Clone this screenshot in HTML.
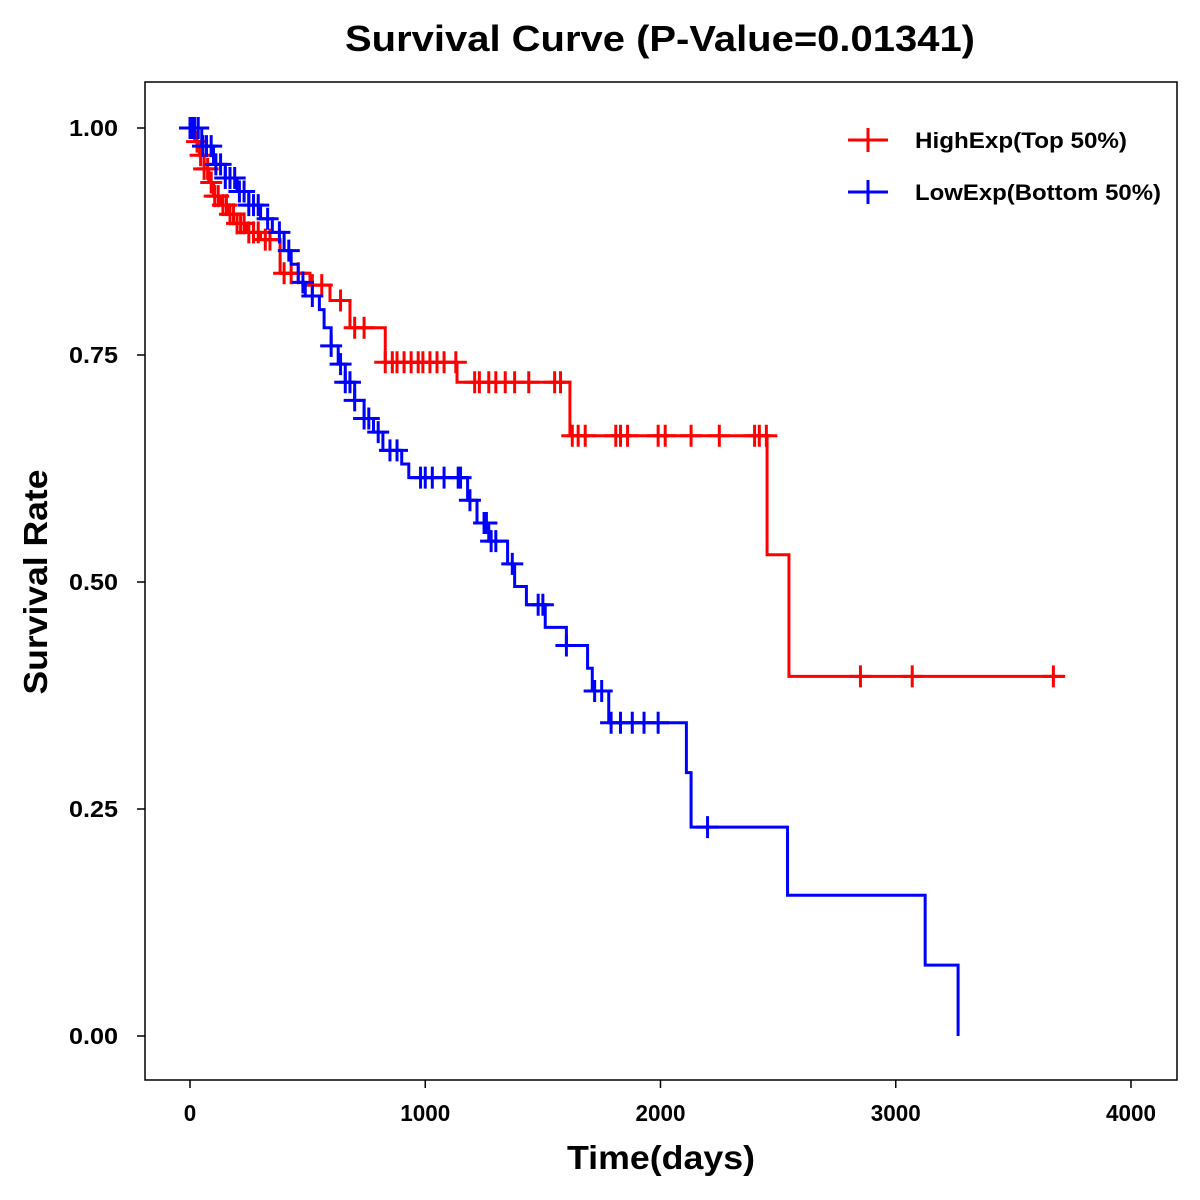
<!DOCTYPE html>
<html><head><meta charset="utf-8"><style>
html,body{margin:0;padding:0;background:#fff;}
svg{display:block;font-family:"Liberation Sans",Arial,sans-serif;}
</style></head><body>
<svg id="chart" width="1200" height="1200" viewBox="0 0 1200 1200">
<rect x="0" y="0" width="1200" height="1200" fill="#fff"/>
<text x="660" y="51" text-anchor="middle" font-size="36" font-weight="bold" textLength="630" lengthAdjust="spacingAndGlyphs">Survival Curve (P-Value=0.01341)</text>
<rect x="145" y="82" width="1032" height="998" fill="none" stroke="#000" stroke-width="1.5"/>
<text x="661" y="1169" text-anchor="middle" font-size="33" font-weight="bold" textLength="188" lengthAdjust="spacingAndGlyphs">Time(days)</text>
<text transform="translate(47,582) rotate(-90)" text-anchor="middle" font-size="33" font-weight="bold" textLength="225" lengthAdjust="spacingAndGlyphs">Survival Rate</text>
<g id="axes"></g>
<g id="series"></g>
<g>
<g>
<line x1="848" y1="140" x2="888" y2="140" stroke="#f00" stroke-width="3"/><line x1="868" y1="128" x2="868" y2="152" stroke="#f00" stroke-width="3"/>
<text x="915" y="148" font-size="22" font-weight="bold" textLength="212" lengthAdjust="spacingAndGlyphs">HighExp(Top 50%)</text></g>
<g>
<line x1="848" y1="192" x2="888" y2="192" stroke="#00f" stroke-width="3"/><line x1="868" y1="180" x2="868" y2="204" stroke="#00f" stroke-width="3"/>
<text x="915" y="200" font-size="22" font-weight="bold" textLength="246" lengthAdjust="spacingAndGlyphs">LowExp(Bottom 50%)</text></g>
</g>
</svg>
<script>
const xTicks=[0,1000,2000,3000,4000];
const yTicks=[0,0.25,0.5,0.75,1.0];
const yTickLabels=["0.00","0.25","0.50","0.75","1.00"];
const highTimes=[0,20,40,60,80,100,130,160,200,240,300,383,510,595,680,830,1135,1615,2453,2546,3720];
const highSurv=[1.0,0.985,0.97,0.955,0.94,0.925,0.915,0.905,0.895,0.885,0.877,0.84,0.827,0.81,0.78,0.742,0.72,0.661,0.53,0.396,0.396];
const highCensor=[15,30,45,60,75,90,105,120,140,155,170,185,200,215,230,250,270,290,320,340,400,430,460,520,560,640,700,740,830,860,880,910,940,970,990,1020,1050,1080,1130,1210,1230,1270,1300,1340,1380,1440,1550,1575,1625,1650,1680,1810,1830,1860,1990,2020,2130,2250,2400,2420,2450,2850,3070,3670];
const lowTimes=[0,50,100,150,200,250,300,350,400,430,460,490,550,570,600,630,660,700,740,780,820,900,930,1180,1220,1270,1350,1380,1430,1510,1600,1690,1710,1780,2110,2130,2540,3125,3265];
const lowSurv=[1.0,0.98,0.96,0.945,0.93,0.915,0.9,0.885,0.865,0.85,0.83,0.815,0.8,0.78,0.76,0.74,0.72,0.7,0.68,0.665,0.645,0.63,0.615,0.59,0.565,0.545,0.52,0.495,0.475,0.45,0.43,0.405,0.38,0.345,0.29,0.23,0.155,0.078,0.0];
const lowCensor=[0,5,10,20,35,55,70,90,110,130,150,170,190,210,230,250,270,290,330,380,420,480,520,600,640,660,680,700,740,760,800,850,880,980,1000,1030,1080,1140,1150,1190,1250,1260,1280,1300,1370,1480,1500,1600,1720,1750,1790,1830,1880,1930,1990,2200];

const X=t=>190+t*(1131-190)/4000;
const Y=s=>1036-s*(1036-128);
const NS="http://www.w3.org/2000/svg";
function mk(tag,attrs,parent){const e=document.createElementNS(NS,tag);for(const k in attrs)e.setAttribute(k,attrs[k]);parent.appendChild(e);return e;}
const axes=document.getElementById('axes');
xTicks.forEach(v=>{
 const l=mk('line',{x1:X(v),y1:1080,x2:X(v),y2:1088,stroke:'#000','stroke-width':1.5},axes);
 
 
 const s=String(v);
 const t=mk('text',{x:X(v),y:1121,'text-anchor':'middle','font-size':23,'font-weight':'bold',textLength:s.length*12.5,lengthAdjust:'spacingAndGlyphs'},axes);
 t.textContent=s;
 
 
});
yTicks.forEach((v,i)=>{
 const l=mk('line',{x1:137,y1:Y(v),x2:145,y2:Y(v),stroke:'#000','stroke-width':1.5},axes);
 
 
 const t=mk('text',{x:118,y:Y(v)+8,'text-anchor':'end','font-size':23,'font-weight':'bold',textLength:49,lengthAdjust:'spacingAndGlyphs'},axes);
 t.textContent=yTickLabels[i];
 
 
});
function survAt(times,surv,t){let s=surv[0];for(let i=0;i<times.length;i++){if(times[i]<=t)s=surv[i];}return s;}
const ser=document.getElementById('series');
function draw(times,surv,cens,color,name){
 let d='M'+X(times[0])+','+Y(surv[0]);
 for(let i=1;i<times.length;i++){d+=' H'+X(times[i])+' V'+Y(surv[i]);}
 const p=mk('path',{d:d,fill:'none',stroke:color,'stroke-width':3},ser);
 
 
 cens.forEach(t=>{
  const s=survAt(times,surv,t);const cx=X(t),cy=Y(s);
  const g=mk('path',{d:`M${cx-11},${cy} H${cx+11} M${cx},${cy-11} V${cy+11}`,stroke:color,'stroke-width':3,fill:'none'},ser);
  
  
 });
}
draw(highTimes,highSurv,highCensor,'#f00','high-exp');
draw(lowTimes,lowSurv,lowCensor,'#00f','low-exp');
</script>
</body></html>
